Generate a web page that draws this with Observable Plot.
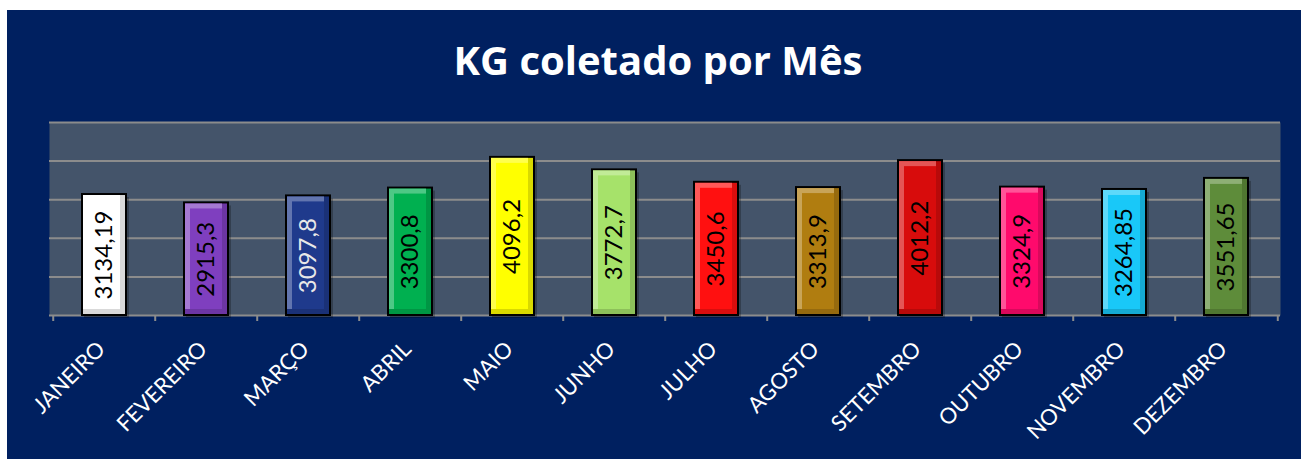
<!DOCTYPE html>
<html>
<head>
<meta charset="utf-8">
<script src="https://cdn.jsdelivr.net/npm/d3@7"></script>
<script src="https://cdn.jsdelivr.net/npm/@observablehq/plot@0.6"></script>
<style>
  html, body { margin: 0; padding: 0; background: #ffffff; }
  #wrap { position: absolute; left: 7px; top: 10px; width: 1294px; height: 449px; background: #002060; overflow: hidden; }
  #title { position: absolute; left: 4px; top: 26px; width: 1294px; text-align: center; font: 700 40px "Open Sans", Lato, sans-serif; line-height: 48px; color: #ffffff; }
  #chart { position: absolute; left: 0; top: 100px; }
</style>
</head>
<body>
<div id="wrap">
  <div id="title">KG coletado por Mês</div>
  <div id="chart"></div>
</div>
<script>
const months = ["JANEIRO","FEVEREIRO","MARÇO","ABRIL","MAIO","JUNHO","JULHO","AGOSTO","SETEMBRO","OUTUBRO","NOVEMBRO","DEZEMBRO"];
const values = [3134.19, 2915.3, 3097.8, 3300.8, 4096.2, 3772.7, 3450.6, 3313.9, 4012.2, 3324.9, 3264.85, 3551.65];
const valueLabels = ["3134,19","2915,3","3097,8","3300,8","4096,2","3772,7","3450,6","3313,9","4012,2","3324,9","3264,85","3551,65"];
const barColors = ["#ffffff","#7f3fbf","#1f3a8c","#00b050","#ffff00","#a6e26a","#ff1010","#b07d10","#d80c0c","#ff0a6c","#19c8f8","#5e8c3a"];
const labelColors = ["#000000","#000000","#e8e8e8","#000000","#000000","#000000","#000000","#000000","#000000","#000000","#000000","#000000"];
const gridValues = [1000, 2000, 3000, 4000, 5000];

const W = 1294, H = 349;
const mL = 42, mR = 21, mT = 12, mB = 144;
const step = (W - mL - mR) / months.length;

const data = months.map((m, i) => {
  const c = d3.color(barColors[i]);
  return {
    month: m, value: values[i], label: valueLabels[i],
    base: barColors[i],
    light: d3.interpolateRgb(barColors[i], "#ffffff")(0.3),
    dark: c.darker(0.45).formatHex(),
    labelColor: labelColors[i]
  };
});

const font = "Lato, 'Open Sans', sans-serif";
const inset = 29;

const chart = Plot.plot({
  width: W, height: H,
  marginLeft: mL, marginRight: mR, marginTop: mT, marginBottom: mB,
  style: { background: "transparent", fontFamily: font },
  x: { domain: months, padding: 0, label: null },
  y: { domain: [0, 5000], axis: null },
  color: { type: "identity" },
  marks: [
    Plot.frame({ fill: "#44546a", stroke: null }),
    Plot.ruleY(gridValues, { stroke: "#8c8c8c", strokeWidth: 2 }),
    Plot.ruleY([0], { stroke: "#8c8c8c", strokeWidth: 2 }),
    Plot.ruleX(months, { x: d => d, dx: -step / 2, y1: 0, y2: 0, insetBottom: -6, stroke: "#8c8c8c", strokeWidth: 2 }),
    Plot.ruleX(months.slice(-1), { x: d => d, dx: step / 2, y1: 0, y2: 0, insetBottom: -6, stroke: "#8c8c8c", strokeWidth: 2 }),
    Plot.barY(data, { x: "month", y: "value", fill: "#000000", fillOpacity: 0.25, insetLeft: inset + 2, insetRight: inset - 3, dy: 3 }),
    Plot.barY(data, { x: "month", y: "value", fill: "dark", stroke: "#000000", strokeWidth: 2, insetLeft: inset, insetRight: inset }),
    Plot.barY(data, { x: "month", y: "value", fill: "light", insetLeft: inset + 1, insetRight: inset + 6, insetTop: 1, insetBottom: 6 }),
    Plot.barY(data, { x: "month", y: "value", fill: "base", insetLeft: inset + 6, insetRight: inset + 6, insetTop: 6, insetBottom: 6 }),
    Plot.text(data, { x: "month", y: d => d.value / 2, text: "label", rotate: -90, fill: "labelColor", fontSize: 24, fontFamily: font }),
    Plot.axisX({ tickSize: 0, tickPadding: 30, tickRotate: -45, dx: -3, fill: "#ffffff", fontSize: 22, fontFamily: font, label: null })
  ]
});
document.getElementById("chart").appendChild(chart);
</script>
</body>
</html>
